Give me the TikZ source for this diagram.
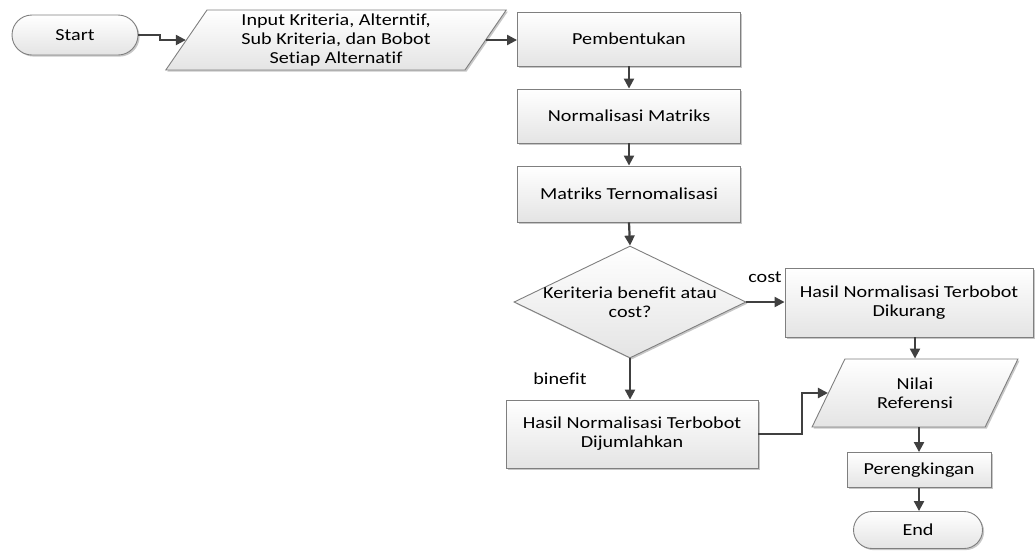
\documentclass[tikz,border=0pt]{standalone}
\usepackage{fontspec}
\setmainfont{Carlito}[FakeStretch=1.2, Ligatures={NoCommon,NoContextual,NoDiscretionary,NoRare}]
\usetikzlibrary{shapes.geometric,shapes.misc,arrows.meta,shadows}
\definecolor{linec}{HTML}{404040}
\definecolor{borderc}{HTML}{7F7F7F}
\definecolor{fillb}{HTML}{E4E4E4}
\tikzset{
  base/.style={draw=borderc, line width=0.9pt, top color=white, bottom color=fillb,
    drop shadow={shadow xshift=1.6pt, shadow yshift=-1.6pt, fill=black, opacity=0.22},
    inner sep=0pt, align=center, font=\fontsize{16.8}{19}\selectfont, text=black},
  procbox/.style={base, rectangle, minimum width=#1},
  term/.style={base, rounded rectangle, minimum width=#1},
  iobox/.style={base, trapezium, trapezium left angle=60, trapezium right angle=120,
    trapezium stretches=true, minimum width=#1},
  decis/.style={base, diamond, minimum width=232pt, minimum height=112pt},
  arr/.style={draw=linec, line width=2.2pt, -{Triangle[length=10pt,width=10pt]}},
  lbl/.style={font=\fontsize{16.8}{19}\selectfont, text=black, inner sep=0pt}
}
\begin{document}
\begin{tikzpicture}[x=1pt,y=-1pt]
\useasboundingbox (0,0) rectangle (1035,550);
\node[term=126pt, minimum height=40pt] (start) at (75,35) {Start};
\node[iobox=341pt, minimum height=60pt] (input) at (336,40) {Input Kriteria, Alterntif,\\Sub Kriteria, dan Bobot\\Setiap Alternatif};
\node[procbox=223pt, minimum height=54pt] (pemb) at (629,39) {Pembentukan};
\node[procbox=223pt, minimum height=54pt] (norm) at (629,116) {Normalisasi Matriks};
\node[procbox=223pt, minimum height=56pt] (matr) at (629,194) {Matriks Ternomalisasi};
\node[decis, label={[lbl, align=center]center:Keriteria benefit atau\\cost?}] (dec) at (630,302) {};
\node[procbox=248pt, minimum height=69pt] (kur) at (909,302.5) {Hasil Normalisasi Terbobot\\Dikurang};
\node[procbox=252pt, minimum height=68pt] (jum) at (632,434) {Hasil Normalisasi Terbobot\\Dijumlahkan};
\node[iobox=206pt, minimum height=68pt] (nilai) at (915,393) {Nilai\\Referensi};
\node[procbox=144pt, minimum height=35pt] (rank) at (919,470) {Perengkingan};
\node[term=129pt, minimum height=37pt] (end) at (918,530) {End};
\node[lbl] (costl) at (765,277) {cost};
\node[lbl] (benl) at (560,379) {binefit};
\coordinate (j1) at (160,35);
\coordinate (j2) at (802,434);
\draw[arr] (start.east) -- (j1) |- (input.left side);
\draw[arr] (input.right side) -- (pemb.west |- input.right side);
\draw[arr] (pemb.south) -- (norm.north);
\draw[arr] (norm.south) -- (matr.north);
\draw[arr] (matr.south) -- (dec.north);
\draw[arr] (dec.east) -- (kur.west |- dec.east);
\draw[arr] (dec.south) -- (dec.south |- jum.north);
\draw[arr] (kur.south -| nilai.north) -- (nilai.north);
\draw[arr] (jum.east) -- (j2) |- (nilai.left side);
\draw[arr] (nilai.south -| rank.north) -- (rank.north);
\draw[arr] (rank.south) -- (rank.south |- end.north);
\end{tikzpicture}
\end{document}
